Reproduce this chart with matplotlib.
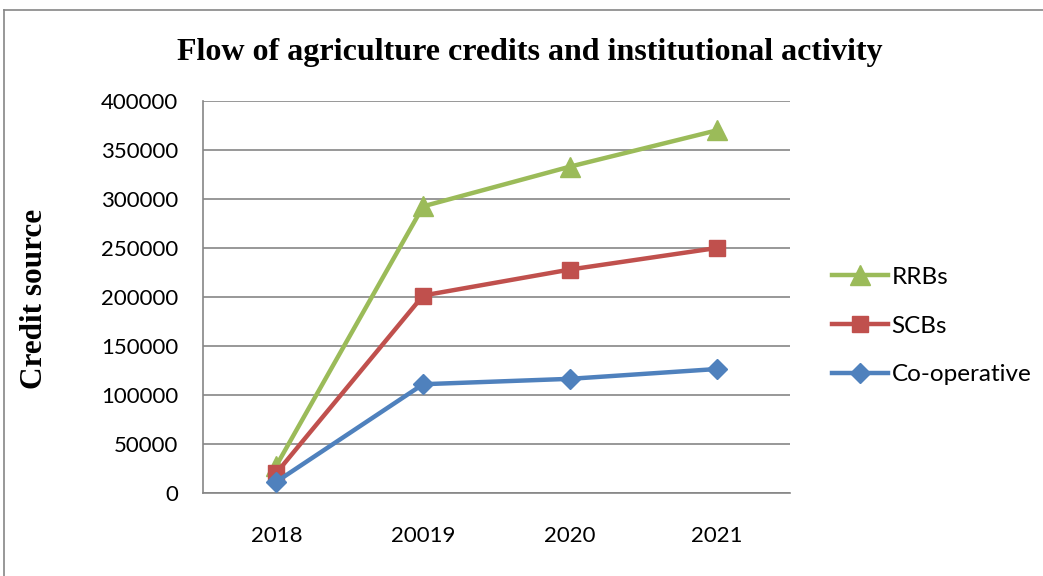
import matplotlib
matplotlib.use("Agg")
import matplotlib.pyplot as plt
from matplotlib.lines import Line2D

years = ["2018", "20019", "2020", "2021"]
rrbs = [28000, 292500, 333000, 370000]
scbs = [20400, 201500, 228000, 250000]
coop = [11500, 111000, 116500, 126500]
yticks = [0, 50000, 100000, 150000, 200000, 250000, 300000, 350000, 400000]

fig = plt.figure(figsize=(10.43, 5.76), dpi=100)
ax = fig.add_axes([203/1043, 83/576, 587/1043, 392/576])

x = list(range(len(years)))
ax.plot(x, rrbs, color="#9BBB59", lw=3.2, marker="^", ms=14, label="RRBs", zorder=3)
ax.plot(x, scbs, color="#C0504D", lw=3.2, marker="s", ms=12, label="SCBs", zorder=3)
ax.plot(x, coop, color="#4F81BD", lw=3.2, marker="D", ms=10, label="Co-operative", zorder=3)

ax.set_xlim(-0.5, 3.5)
ax.set_ylim(0, 400000)
ax.set_yticks(yticks)
ax.set_yticklabels([str(v) for v in yticks])
ax.set_xticks(x)
ax.set_xticklabels(years)
ax.yaxis.grid(True, color="#868686", lw=1.2)
ax.set_axisbelow(True)
for s in ["top", "right"]:
    ax.spines[s].set_visible(False)
ax.spines["left"].set_color("#868686")
ax.spines["bottom"].set_color("#868686")
ax.spines["left"].set_linewidth(1.2)
ax.spines["bottom"].set_linewidth(1.2)
ax.tick_params(axis="both", length=0, labelsize=16)
ax.tick_params(axis="y", pad=18)
ax.tick_params(axis="x", pad=24)
for lab in ax.get_xticklabels() + ax.get_yticklabels():
    lab.set_family("Lato")

fig.text(0.508, 0.908, "Flow of agriculture credits and institutional activity",
         ha="center", va="center", family="Liberation Serif", weight="bold", fontsize=23)
fig.text(35/1043, 1 - 299/576, "Credit source", rotation=90, ha="center", va="center",
         family="Liberation Serif", weight="bold", fontsize=22.5)

leg = ax.legend(loc="center left", bbox_to_anchor=(1.055, 0.426), frameon=False,
                prop={"family": "Lato", "size": 17.5}, handlelength=2.3,
                handletextpad=0.15, labelspacing=1.15, borderaxespad=0)

fig.add_artist(Line2D([4/1043, 4/1043], [0, 1 - 10/576], color="#868686", lw=1.2))
fig.add_artist(Line2D([4/1043, 1], [1 - 10/576, 1 - 10/576], color="#868686", lw=1.2))

fig.savefig("out.png", dpi=100)
